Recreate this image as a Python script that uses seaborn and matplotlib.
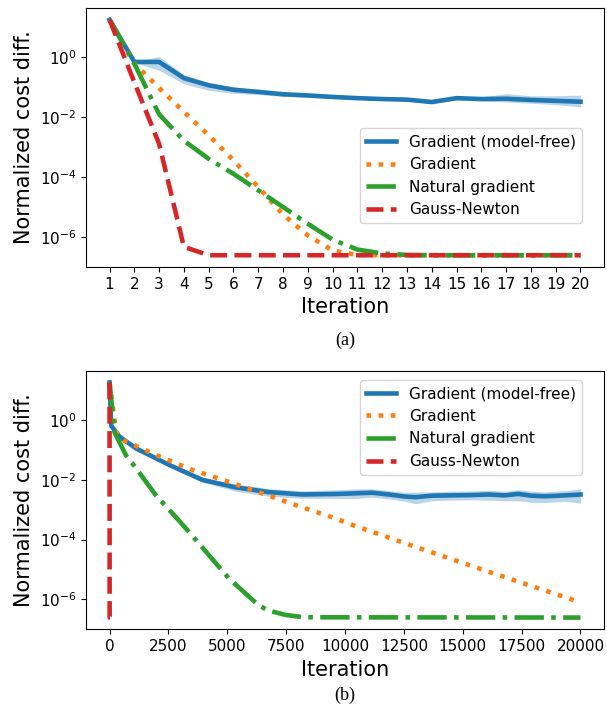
import numpy as np
import matplotlib.pyplot as plt
import seaborn as sns

# values stored as log10 of the normalized cost difference
# (a) 20 iterations
it_a = list(range(1, 21))
mf_a = [1.26, -0.15, -0.15, -0.69, -0.93, -1.08, -1.15, -1.23, -1.27, -1.32,
        -1.36, -1.39, -1.41, -1.49, -1.36, -1.39, -1.38, -1.42, -1.45, -1.48]
mf_a_lo = [1.26, -0.17, -0.43, -0.88, -1.10, -1.20, -1.24, -1.30, -1.33, -1.37,
           -1.40, -1.43, -1.45, -1.54, -1.42, -1.45, -1.49, -1.53, -1.58, -1.65]
mf_a_hi = [1.26, -0.13, 0.03, -0.58, -0.85, -0.98, -1.10, -1.16, -1.21, -1.27,
           -1.32, -1.35, -1.37, -1.44, -1.31, -1.32, -1.21, -1.28, -1.28, -1.26]
grad_a = [1.26, -0.20, -1.02, -1.82, -2.60, -3.44, -4.33, -5.25, -5.95, -6.45,
          -6.60, -6.61, -6.61, -6.61, -6.61, -6.61, -6.61, -6.61, -6.61, -6.61]
nat_a = [1.26, -0.21, -1.90, -2.78, -3.39, -3.89, -4.44, -5.00, -5.56, -6.09,
         -6.42, -6.55, -6.60, -6.61, -6.61, -6.61, -6.61, -6.61, -6.61, -6.61]
gn_a = [1.26, -0.83, -2.89, -6.33, -6.61, -6.61, -6.61, -6.61, -6.61, -6.61,
        -6.61, -6.61, -6.61, -6.61, -6.61, -6.61, -6.61, -6.61, -6.61, -6.61]

# (b) 20000 iterations
it_mf_b = [0, 70, 420, 1130, 2535, 3940, 5350, 6760, 8170, 9750, 10450, 11150, 11860,
           12560, 12990, 13690, 14390, 15380, 16080, 16790, 17350, 17920, 18480, 19320, 20000]
mf_b = [1.26, -0.19, -0.55, -0.95, -1.50, -2.00, -2.25, -2.41, -2.49, -2.47, -2.45, -2.43, -2.49,
        -2.56, -2.58, -2.53, -2.52, -2.51, -2.49, -2.52, -2.47, -2.53, -2.55, -2.52, -2.49]
mf_b_lo = [1.26, -0.21, -0.58, -0.99, -1.56, -2.08, -2.38, -2.55, -2.62, -2.62, -2.62, -2.58, -2.64,
           -2.72, -2.80, -2.70, -2.68, -2.67, -2.68, -2.70, -2.70, -2.75, -2.76, -2.72, -2.78]
mf_b_hi = [1.26, -0.17, -0.52, -0.91, -1.44, -1.92, -2.13, -2.29, -2.37, -2.33, -2.30, -2.30, -2.36,
           -2.42, -2.41, -2.40, -2.38, -2.37, -2.35, -2.38, -2.33, -2.38, -2.40, -2.36, -2.30]
it_grad_b = [0, 280, 630, 2040, 3520, 5000, 6480, 7960, 9440, 10420, 13100, 16340, 20000]
grad_b = [1.26, -0.41, -0.69, -1.19, -1.67, -2.05, -2.45, -2.86, -3.25, -3.54, -4.27, -5.14, -6.10]
it_nat_b = [0, 210, 705, 1060, 1970, 2820, 3380, 5070, 6270, 6690, 7460, 8240, 20000]
nat_b = [1.26, -0.41, -1.19, -1.54, -2.52, -3.25, -3.75, -5.30, -6.16, -6.36, -6.52, -6.60, -6.61]
it_gn_b = list(range(0, 20))
gn_b = gn_a

labels = ["Gradient (model-free)", "Gradient", "Natural gradient", "Gauss-Newton"]
colors = ["#1f77b4", "#ff7f0e", "#2ca02c", "#d62728"]
styles = ["-", ":", "-.", "--"]
lw = 3.3

fig = plt.figure(figsize=(6.07, 7.06), dpi=100)
ax1 = fig.add_axes([0.1417, 0.6218, 0.8534, 0.3669])
ax2 = fig.add_axes([0.1417, 0.1086, 0.8534, 0.3663])


def draw(ax, series, band):
    x0, lo, hi = band
    ax.fill_between(x0, 10 ** np.array(lo), 10 ** np.array(hi), color=colors[0], alpha=0.3, lw=0)
    for (x, y), lab, c, ls in zip(series, labels, colors, styles):
        sns.lineplot(x=x, y=10 ** np.array(y), ax=ax, color=c, lw=lw, linestyle=ls,
                     label=lab, errorbar=None)
    ax.set_yscale("log")
    ax.set_yticks([1e0, 1e-2, 1e-4, 1e-6])
    ax.yaxis.set_minor_locator(plt.NullLocator())
    ax.set_xlabel("Iteration", fontsize=15)
    ax.set_ylabel("Normalized cost diff.", fontsize=15)
    ax.tick_params(labelsize=11)


draw(ax1, [(it_a, mf_a), (it_a, grad_a), (it_a, nat_a), (it_a, gn_a)],
     (it_a, mf_a_lo, mf_a_hi))
ax1.set_xticks(it_a)
ax1.legend(loc="upper right", bbox_to_anchor=(0.957, 0.5355), borderaxespad=0, fontsize=11)

draw(ax2, [(it_mf_b, mf_b), (it_grad_b, grad_b), (it_nat_b, nat_b), (it_gn_b, gn_b)],
     (it_mf_b, mf_b_lo, mf_b_hi))
ax2.set_xticks(np.arange(0, 20001, 2500))
ax2.legend(loc="upper right", bbox_to_anchor=(0.957, 0.964), borderaxespad=0, fontsize=11)

fig.text(0.5684, 1 - 340 / 706, "(a)", ha="center", va="center", fontsize=13, family="Liberation Serif")
fig.text(0.5684, 1 - 695 / 706, "(b)", ha="center", va="center", fontsize=13, family="Liberation Serif")

fig.savefig("out.png", dpi=100)
